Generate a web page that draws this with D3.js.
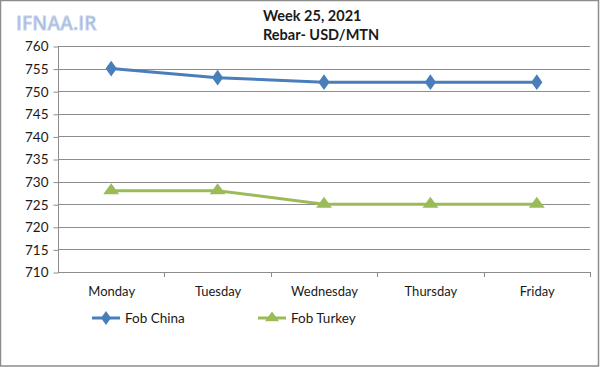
<!DOCTYPE html>
<html><head><meta charset="utf-8">
<script src="https://cdn.jsdelivr.net/npm/d3@7"></script>
<style>body{margin:0;background:#fff}svg{display:block}</style>
</head><body>
<script>
const categories = ["Monday","Tuesday","Wednesday","Thursday","Friday"];
const fobChina = [755, 753, 752, 752, 752];
const fobTurkey = [728, 728, 725, 725, 725];
const yTicks = [710,715,720,725,730,735,740,745,750,755,760];
const titleLines = ["Week 25, 2021","Rebar- USD/MTN"];
const seriesNames = ["Fob China","Fob Turkey"];

const W=600,H=367;
const svg=d3.select("body").append("svg").attr("width",W).attr("height",H);
svg.append("rect").attr("x",0.5).attr("y",0.5).attr("width",W-2).attr("height",H-1.5)
  .attr("fill","#fff").attr("stroke","#8c8c8c").attr("stroke-width",1.5);

const x=d3.scaleBand().domain(categories).range([58,590]);
const y=d3.scaleLinear().domain([710,760]).range([272,46]);
const font="Lato, 'Open Sans', sans-serif";

// gridlines
svg.append("g").selectAll("line").data(yTicks.filter(t=>t!==710)).join("line")
  .attr("x1",58).attr("x2",590).attr("y1",d=>Math.round(y(d))+0.5).attr("y2",d=>Math.round(y(d))+0.5)
  .attr("stroke","#8c8c8c").attr("stroke-width",1);

// y axis
const ya=svg.append("g").attr("transform","translate(58.5,0.5)")
  .call(d3.axisLeft(y).tickValues(yTicks).tickSize(5).tickPadding(5));
ya.select(".domain").attr("stroke","#8c8c8c").attr("d","M0,46V272");
ya.selectAll(".tick line").attr("stroke","#8c8c8c");
ya.selectAll("text").attr("font-family",font).attr("font-size",13.5).attr("fill","#1a1a1a");

// x axis
const xa=svg.append("g").attr("transform","translate(0.5,272.5)")
  .call(d3.axisBottom(x).tickSize(0).tickPadding(14));
xa.select(".domain").attr("stroke","#8c8c8c").attr("d","M57.5,0H589.5");
xa.selectAll(".tick line").remove();
xa.selectAll("text").attr("font-family",font).attr("font-size",13).attr("fill","#1a1a1a");
const bounds=categories.map(c=>x(c)).concat([590]);
svg.append("g").selectAll("line").data(bounds.slice(1)).join("line")
  .attr("x1",d=>Math.round(d)+0.5).attr("x2",d=>Math.round(d)+0.5).attr("y1",272).attr("y2",277)
  .attr("stroke","#8c8c8c");

const cx=c=>x(c)+x.bandwidth()/2;
const series=[
  {name:seriesNames[0],vals:fobChina,color:"#4a7ebb",sym:d3.symbolDiamond,size:70},
  {name:seriesNames[1],vals:fobTurkey,color:"#9bbb59",sym:d3.symbolTriangle,size:70}
];
const line=d3.line().x(d=>cx(d.c)).y(d=>y(d.v));
series.forEach(s=>{
  const pts=categories.map((c,i)=>({c,v:s.vals[i]}));
  svg.append("path").datum(pts).attr("d",line).attr("fill","none").attr("stroke",s.color).attr("stroke-width",3).attr("stroke-linejoin","round");
  svg.append("g").selectAll("path").data(pts).join("path")
    .attr("transform",d=>`translate(${cx(d.c)},${y(d.v)}) scale(1.25,1)`)
    .attr("d",d3.symbol(s.sym,s.size)).attr("fill",s.color);
});

// legend
const lg=[{x:92,tx:125},{x:258,tx:291}];
series.forEach((s,i)=>{
  const g=svg.append("g");
  g.append("line").attr("x1",lg[i].x).attr("x2",lg[i].x+28).attr("y1",318).attr("y2",318).attr("stroke",s.color).attr("stroke-width",3);
  g.append("path").attr("transform",`translate(${lg[i].x+14},318) scale(1.25,1)`).attr("d",d3.symbol(s.sym,55)).attr("fill",s.color);
  g.append("text").attr("x",lg[i].tx).attr("y",322.5).text(s.name)
    .attr("font-family",font).attr("font-size",13.5).attr("fill","#1a1a1a");
});

// title
svg.append("g").selectAll("text").data(titleLines).join("text")
  .attr("x",263).attr("y",(d,i)=>21+i*19).text(d=>d)
  .attr("font-family",font).attr("font-weight","bold").attr("font-size",14.5).attr("fill","#1a1a1a");

// watermark
svg.append("text").attr("x",16).attr("y",30).text("IFNAA.IR")
  .attr("font-family","'Open Sans', sans-serif").attr("font-weight","600").attr("font-size",19).attr("fill","#9fb9e6")
  .attr("stroke","#c8d4e6").attr("stroke-width",0.8).attr("letter-spacing",0.2);
</script>
</body></html>
